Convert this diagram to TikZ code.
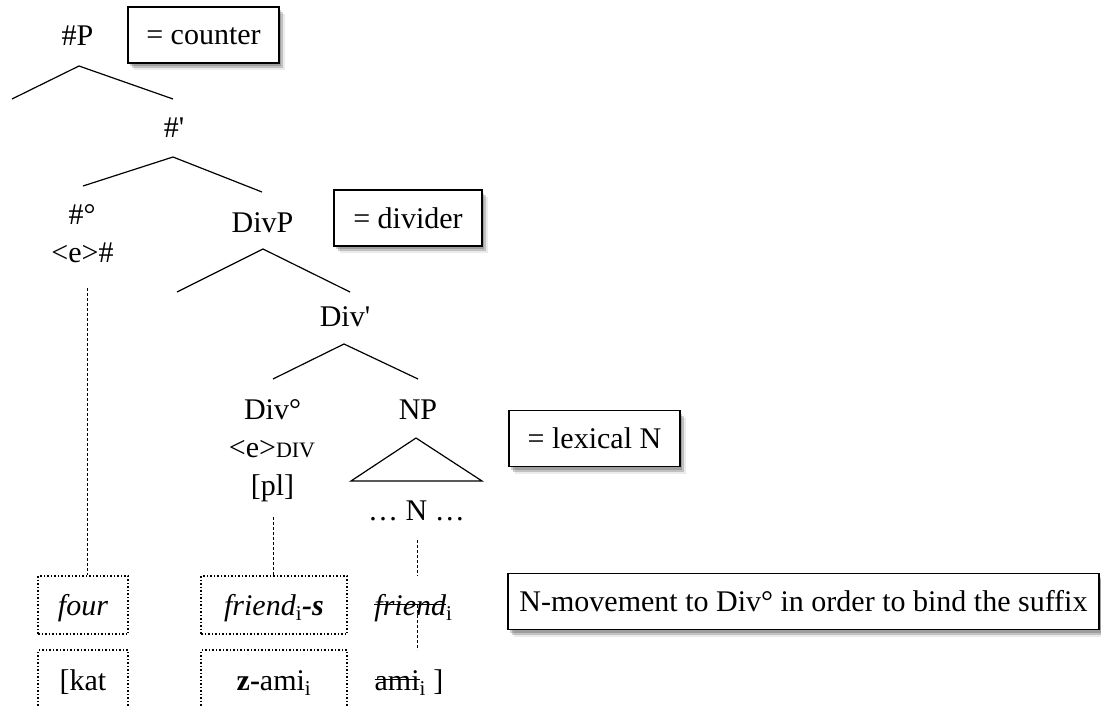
\documentclass[tikz,border=0pt]{standalone}
\usepackage{fontspec}
\setmainfont{Liberation Serif}
\usetikzlibrary{shadows}

% struck-through text: a rule laid over the boxed material
\newsavebox\strikebox
\newcommand{\struck}[1]{\sbox\strikebox{#1}\rlap{\rule[0.33em]{\wd\strikebox}{1.4pt}}\usebox\strikebox}

\begin{document}
\begin{tikzpicture}[x=1pt,y=-1pt,
  every node/.style={font=\fontsize{30}{36}\selectfont, inner sep=0pt},
  lbl/.style={anchor=base},
  branch/.style={line width=1.2pt},
  link/.style={dash pattern=on 3pt off 2pt, line width=0.7pt},
  softshadow/.style={
    drop shadow={shadow xshift=2pt, shadow yshift=-3pt, fill=black, opacity=0.18},
    drop shadow={shadow xshift=4pt, shadow yshift=-5pt, fill=black, opacity=0.18},
    drop shadow={shadow xshift=6pt, shadow yshift=-7pt, fill=black, opacity=0.08}},
  note/.style={draw, line width=1.2pt, fill=white, softshadow,
    text height=20pt, text depth=0pt, minimum height=56pt},
  slot/.style={draw, dotted, line width=1.5pt,
    text height=20pt, text depth=0pt, minimum height=58pt}
]
\useasboundingbox (0,0) rectangle (1101,706);

% ---- tree labels
\node[lbl] (hP)     at (77.5,46)  {\#P};
\node[lbl] (hbar)   at (174,138)  {\#\textquotesingle};
\node[lbl] (hzero)  at (82,225)   {\#°};
\node[lbl] (hempty) at (82.5,262) {<e>\#};
\node[lbl] (DivP)   at (262.5,232){DivP};
\node[lbl] (Divbar) at (345,326)  {Div\textquotesingle};
\node[lbl] (Divzero) at (272.5,419){Div°};
\node[lbl] (NP)     at (418,419)  {NP};
\node[lbl] (eDiv)   at (272,457)  {<e>{\fontsize{22}{22}\selectfont DIV}};
\node[lbl] (pl)     at (272.5,495){[pl]};
\node[lbl] (dotsN)  at (416.5,520){… N …};

% ---- annotation boxes
\node[note, minimum width=151pt] (counter) at (203.5,35)   {= counter};
\node[note, minimum width=148pt] (divider) at (408,218)    {= divider};
\node[note, minimum width=171pt] (lexN)    at (594.5,438.5){= lexical N};
\node[note, minimum width=591pt] (move)    at (803.5,601.5){N-movement to Div° in order to bind the suffix};

% ---- word slots
\node[slot, minimum width=90pt]  (four)    at (83,605)  {\textit{four}};
\node[slot, minimum width=146pt] (friends) at (274,605) {\textit{friend}\textsubscript{i}\textbf{\textit{-s}}};
\node[lbl] (friendt) at (413.5,615) {\struck{\textit{friend}}\textsubscript{i}};
\node[slot, minimum width=90pt, minimum height=60pt]  (kat)  at (83,680)  {[kat};
\node[slot, minimum width=146pt, minimum height=60pt] (zami) at (274,680) {\textbf{z-}ami\textsubscript{i}};
\node[lbl] (amit) at (409,690) {\struck{ami}\textsubscript{i} ]};

% ---- branches
\coordinate (hPtop) at (79,66);   \coordinate (hPl) at (12,99);   \coordinate (hPr) at (173,99);
\draw[branch] (hPl) -- (hPtop) -- (hPr);
\coordinate (hbtop) at (173,157); \coordinate (hbl) at (83,186);  \coordinate (hbr) at (262,192);
\draw[branch] (hbl) -- (hbtop) -- (hbr);
\coordinate (dptop) at (263,249); \coordinate (dpl) at (177,292); \coordinate (dpr) at (350,292);
\draw[branch] (dpl) -- (dptop) -- (dpr);
\coordinate (dbtop) at (344,344); \coordinate (dbl) at (273,379); \coordinate (dbr) at (418,379);
\draw[branch] (dbl) -- (dbtop) -- (dbr);
\coordinate (nptop) at (416,438); \coordinate (npl) at (351,481); \coordinate (npr) at (482,481);
\draw[branch] (nptop) -- (npl) -- (npr) -- cycle;

% ---- association lines
\coordinate (heBot) at (87,288);
\draw[link] (heBot) -- (heBot |- four.north);
\coordinate (plBot) at (273,517);
\draw[link] (plBot) -- (plBot |- friends.north);
\coordinate (nBot) at (417,540); \coordinate (nMid) at (417,576);
\draw[link] (nBot) -- (nMid);
\coordinate (nLow) at (417,605); \coordinate (nEnd) at (417,650);
\draw[link] (nLow) -- (nEnd);
\end{tikzpicture}
\end{document}
